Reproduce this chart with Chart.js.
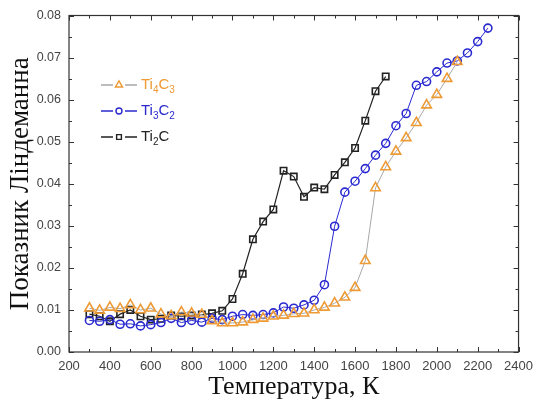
<!DOCTYPE html>
<html>
<head>
<meta charset="utf-8">
<script src="https://cdn.jsdelivr.net/npm/chart.js@4/dist/chart.umd.min.js"></script>
<style>
  html, body { margin: 0; padding: 0; background: #fff; }
  #wrap { width: 540px; height: 408px; }
</style>
</head>
<body>
<div id="wrap"><canvas id="lind"></canvas></div>
<script>
// Температури (K) для кожної структури
const tempTi4C3 = [300, 350, 400, 450, 500, 550, 600, 650, 700, 750, 800, 850, 900, 950, 1000,
  1050, 1100, 1150, 1200, 1250, 1300, 1350, 1400, 1450, 1500, 1550, 1600, 1650, 1700, 1750,
  1800, 1850, 1900, 1950, 2000, 2050, 2100];
const tempTi3C2 = [300, 350, 400, 450, 500, 550, 600, 650, 700, 750, 800, 850, 900, 950, 1000,
  1050, 1100, 1150, 1200, 1250, 1300, 1350, 1400, 1450, 1500, 1550, 1600, 1650, 1700, 1750,
  1800, 1850, 1900, 1950, 2000, 2050, 2100, 2150, 2200, 2250];
const tempTi2C = [300, 350, 400, 450, 500, 550, 600, 650, 700, 750, 800, 850, 900, 950, 1000,
  1050, 1100, 1150, 1200, 1250, 1300, 1350, 1400, 1450, 1500, 1550, 1600, 1650, 1700, 1750];

// Показник Ліндеманна
const lindTi4C3 = [0.0104, 0.0099, 0.0106, 0.0103, 0.0112, 0.0100, 0.0104, 0.0090, 0.0086, 0.0095,
  0.0092, 0.0089, 0.0074, 0.0069, 0.0069, 0.0071, 0.0077, 0.0080, 0.0085, 0.0087,
  0.0091, 0.0092, 0.0100, 0.0106, 0.0116, 0.0130, 0.0153, 0.0217, 0.0390, 0.0440,
  0.0477, 0.0509, 0.0545, 0.0587, 0.0612, 0.0650, 0.0690];
const lindTi3C2 = [0.0075, 0.0073, 0.0077, 0.0066, 0.0067, 0.0062, 0.0065, 0.0070, 0.0080, 0.0070,
  0.0075, 0.0071, 0.0080, 0.0077, 0.0085, 0.0089, 0.0087, 0.0089, 0.0093, 0.0107,
  0.0104, 0.0112, 0.0123, 0.0160, 0.0299, 0.0380, 0.0406, 0.0436, 0.0468, 0.0496,
  0.0538, 0.0567, 0.0634, 0.0643, 0.0666, 0.0687, 0.0692, 0.0711, 0.0738, 0.0770];
const lindTi2C = [0.0090, 0.0085, 0.0073, 0.0090, 0.0100, 0.0085, 0.0077, 0.0079, 0.0087, 0.0085,
  0.0087, 0.0089, 0.0092, 0.0098, 0.0126, 0.0186, 0.0268, 0.0310, 0.0339, 0.0431,
  0.0417, 0.0369, 0.0391, 0.0387, 0.0421, 0.0451, 0.0485, 0.0550, 0.0620, 0.0655];

const xTicks = [200, 400, 600, 800, 1000, 1200, 1400, 1600, 1800, 2000, 2200, 2400];
const yTicks = [0.00, 0.01, 0.02, 0.03, 0.04, 0.05, 0.06, 0.07, 0.08];

const ORANGE = '#ee9a35';
const BLUE = '#2a2ad0';
const BLACK = '#222222';

const toPts = (xs, ys) => xs.map((x, i) => ({ x, y: ys[i] }));

// Рамка графіка з внутрішніми поділками на всіх чотирьох сторонах
const frameTicks = {
  id: 'frameTicks',
  afterDraw(chart) {
    const { ctx, chartArea: a, scales: { x, y } } = chart;
    ctx.save();
    ctx.strokeStyle = '#333';
    ctx.lineWidth = 1.2;
    ctx.strokeRect(a.left, a.top, a.right - a.left, a.bottom - a.top);
    ctx.lineWidth = 1;
    ctx.beginPath();
    for (let v = 200; v <= 2400; v += 100) {
      const px = Math.round(x.getPixelForValue(v)) + 0.5;
      const len = v % 200 === 0 ? 5 : 3;
      ctx.moveTo(px, a.bottom); ctx.lineTo(px, a.bottom - len);
      ctx.moveTo(px, a.top); ctx.lineTo(px, a.top + len);
    }
    for (let k = 0; k <= 16; k++) {
      const py = Math.round(y.getPixelForValue(k * 0.005)) + 0.5;
      const len = k % 2 === 0 ? 5 : 3;
      ctx.moveTo(a.left, py); ctx.lineTo(a.left + len, py);
      ctx.moveTo(a.right, py); ctx.lineTo(a.right - len, py);
    }
    ctx.stroke();
    ctx.restore();
  }
};

// Легенда з нижніми індексами у формулах
const formulaLegend = {
  id: 'formulaLegend',
  afterDraw(chart) {
    const { ctx } = chart;
    const items = [
      { parts: [['Ti', 0], ['4', 1], ['C', 0], ['3', 1]], color: ORANGE, line: '#a8a8a8', ds: 0 },
      { parts: [['Ti', 0], ['3', 1], ['C', 0], ['2', 1]], color: BLUE, line: BLUE, ds: 1 },
      { parts: [['Ti', 0], ['2', 1], ['C', 0]], color: BLACK, line: BLACK, ds: 2 }
    ];
    const x0 = 101, y0 = 85, dy = 26;
    items.forEach((it, i) => {
      const yy = y0 + i * dy;
      const ds = chart.data.datasets[it.ds];
      ctx.save();
      ctx.strokeStyle = it.line;
      ctx.lineWidth = 1.5;
      ctx.beginPath();
      ctx.moveTo(x0, yy); ctx.lineTo(x0 + 12, yy);
      ctx.moveTo(x0 + 24, yy); ctx.lineTo(x0 + 36, yy);
      ctx.stroke();
      ctx.fillStyle = '#fff';
      ctx.strokeStyle = ds.pointBorderColor;
      ctx.lineWidth = 1.4;
      Chart.helpers.drawPoint(ctx, {
        pointStyle: ds.pointStyle, radius: ds.pointRadius * 0.75, rotation: 0, borderWidth: 1.4
      }, x0 + 18, yy);
      ctx.fillStyle = it.color;
      ctx.textBaseline = 'middle';
      let tx = x0 + 40;
      it.parts.forEach(([t, sub]) => {
        ctx.font = sub ? '10px "Liberation Sans", Arial, sans-serif' : '15px "Liberation Sans", Arial, sans-serif';
        ctx.fillText(t, tx, yy + (sub ? 5 : 0));
        tx += ctx.measureText(t).width;
      });
      ctx.restore();
    });
  }
};

new Chart(document.getElementById('lind'), {
  type: 'line',
  data: {
    datasets: [
      {
        label: 'Ti4C3',
        data: toPts(tempTi4C3, lindTi4C3),
        borderColor: '#a8a8a8',
        borderWidth: 1,
        pointStyle: 'triangle',
        pointRadius: 5.5,
        pointBorderColor: ORANGE,
        pointBackgroundColor: 'rgba(255,255,255,0)',
        pointBorderWidth: 1.6,
        tension: 0
      },
      {
        label: 'Ti3C2',
        data: toPts(tempTi3C2, lindTi3C2),
        borderColor: BLUE,
        borderWidth: 1,
        pointStyle: 'circle',
        pointRadius: 4,
        pointBorderColor: BLUE,
        pointBackgroundColor: 'rgba(255,255,255,0)',
        pointBorderWidth: 1.6,
        tension: 0
      },
      {
        label: 'Ti2C',
        data: toPts(tempTi2C, lindTi2C),
        borderColor: BLACK,
        borderWidth: 1.2,
        pointStyle: 'rect',
        pointRadius: 4.5,
        pointBorderColor: BLACK,
        pointBackgroundColor: 'rgba(255,255,255,0)',
        pointBorderWidth: 1.6,
        tension: 0
      }
    ]
  },
  options: {
    responsive: true,
    maintainAspectRatio: false,
    animation: false,
    layout: { padding: { top: 13, right: 14, left: 0, bottom: 0 } },
    plugins: { legend: { display: false }, tooltip: { enabled: false } },
    scales: {
      x: {
        type: 'linear',
        min: 200, max: 2400,
        afterFit: s => { s.height = 56; },
        afterBuildTicks: s => { s.ticks = xTicks.map(v => ({ value: v })); },
        grid: { display: false, drawTicks: false },
        border: { display: false },
        ticks: {
          padding: 7,
          color: '#444',
          font: { family: '"Liberation Sans", Arial, sans-serif', size: 13 },
          maxRotation: 0,
          callback: v => String(v)
        },
        title: {
          display: true,
          text: 'Температура, К',
          color: '#111',
          font: { family: '"Liberation Serif", "Times New Roman", serif', size: 26 },
          padding: { top: 0, bottom: 5 }
        }
      },
      y: {
        min: 0, max: 0.08,
        afterFit: s => { s.width = 69; },
        afterBuildTicks: s => { s.ticks = yTicks.map(v => ({ value: v })); },
        grid: { display: false, drawTicks: false },
        border: { display: false },
        ticks: {
          padding: 8,
          color: '#444',
          font: { family: '"Liberation Sans", Arial, sans-serif', size: 12.5 },
          callback: v => v.toFixed(2)
        },
        title: {
          display: true,
          text: 'Показник Ліндеманна',
          color: '#111',
          font: { family: '"Liberation Serif", "Times New Roman", serif', size: 27 },
          padding: { top: 5, bottom: 0 }
        }
      }
    }
  },
  plugins: [frameTicks, formulaLegend]
});
</script>
</body>
</html>
